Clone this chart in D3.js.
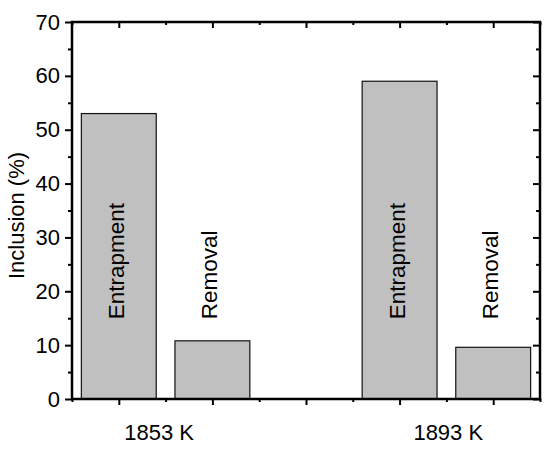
<!DOCTYPE html>
<html>
<head>
<meta charset="utf-8">
<script src="https://cdn.jsdelivr.net/npm/d3@7"></script>
<style>
  html, body { margin: 0; padding: 0; background: #fff; }
  svg { display: block; }
  text { font-family: "Liberation Sans", Arial, sans-serif; fill: #000; }
</style>
</head>
<body>
<div id="chart"></div>
<script>
// ---- data ----
const groupLabels = ["1853 K", "1893 K"];
const groupCenters = [1.43, 4.52];
const barLabels = ["Entrapment", "Removal", "Entrapment", "Removal"];
const barPositions = [1, 2, 4, 5];
const barValues = [53.0, 10.8, 59.0, 9.6];
const yMajorTicks = [0, 10, 20, 30, 40, 50, 60, 70];
const yMinorTicks = [5, 15, 25, 35, 45, 55, 65];
const xMajorTicks = [1, 2, 3, 4, 5];
const xMinorTicks = [0.5, 1.5, 2.5, 3.5, 4.5, 5.5];
const yTitle = "Inclusion (%)";

// ---- layout ----
const W = 550, H = 450;
const mLeft = 72, mRight = 540, mTop = 22, mBottom = 399;

const svg = d3.select("#chart").append("svg").attr("width", W).attr("height", H);

const x = d3.scaleLinear().domain([0.5, 5.5]).range([mLeft, mRight]);
const y = d3.scaleLinear().domain([0, 70]).range([mBottom, mTop]);
const barW = x(0.8) - x(0);

// bars
svg.append("g").selectAll("rect").data(barValues).join("rect")
  .attr("x", (d, i) => x(barPositions[i]) - barW / 2)
  .attr("y", d => y(d))
  .attr("width", barW)
  .attr("height", d => y(0) - y(d))
  .attr("fill", "#c0c0c0")
  .attr("stroke", "#111")
  .attr("stroke-width", 1.2);

// bar labels (rotated)
svg.append("g").selectAll("text").data(barLabels).join("text")
  .attr("transform", (d, i) => `translate(${x(barPositions[i]) + 5},${y(14.8)}) rotate(-90)`)
  .attr("text-anchor", "start")
  .attr("font-size", 22.5)
  .text(d => d);

function styleAxis(g) {
  g.select(".domain").remove();
  g.selectAll(".tick line").attr("stroke", "#000").attr("stroke-width", 2);
}

// left axis
svg.append("g").attr("transform", `translate(${mLeft},0)`)
  .call(d3.axisLeft(y).tickValues(yMajorTicks).tickSize(7).tickPadding(5))
  .call(styleAxis)
  .call(g => g.selectAll(".tick text").attr("font-size", 22).attr("font-family", "Liberation Sans, Arial, sans-serif").attr("fill", "#000"));
svg.append("g").attr("transform", `translate(${mLeft},0)`)
  .call(d3.axisLeft(y).tickValues(yMinorTicks).tickSize(4).tickFormat(""))
  .call(styleAxis);

// right axis (inward)
svg.append("g").attr("transform", `translate(${mRight},0)`)
  .call(d3.axisRight(y).tickValues(yMajorTicks).tickSize(-7).tickFormat(""))
  .call(styleAxis);
svg.append("g").attr("transform", `translate(${mRight},0)`)
  .call(d3.axisRight(y).tickValues(yMinorTicks).tickSize(-4).tickFormat(""))
  .call(styleAxis);

// top axis (inward)
svg.append("g").attr("transform", `translate(0,${mTop})`)
  .call(d3.axisTop(x).tickValues(xMajorTicks).tickSize(-6).tickFormat(""))
  .call(styleAxis);
svg.append("g").attr("transform", `translate(0,${mTop})`)
  .call(d3.axisTop(x).tickValues(xMinorTicks).tickSize(-3).tickFormat(""))
  .call(styleAxis);

// bottom axis (outward)
svg.append("g").attr("transform", `translate(0,${mBottom})`)
  .call(d3.axisBottom(x).tickValues(xMajorTicks).tickSize(6).tickFormat(""))
  .call(styleAxis);
svg.append("g").attr("transform", `translate(0,${mBottom})`)
  .call(d3.axisBottom(x).tickValues(xMinorTicks).tickSize(3).tickFormat(""))
  .call(styleAxis);

// frame
svg.append("rect")
  .attr("x", mLeft).attr("y", mTop)
  .attr("width", mRight - mLeft).attr("height", mBottom - mTop)
  .attr("fill", "none").attr("stroke", "#000").attr("stroke-width", 2.5);

// group labels
svg.append("g").selectAll("text").data(groupLabels).join("text")
  .attr("x", (d, i) => x(groupCenters[i]))
  .attr("y", 440)
  .attr("text-anchor", "middle")
  .attr("font-size", 22)
  .text(d => d);

// y title
svg.append("text")
  .attr("transform", `translate(24,${(mTop + mBottom) / 2 + 5}) rotate(-90)`)
  .attr("text-anchor", "middle")
  .attr("font-size", 22)
  .text(yTitle);
</script>
</body>
</html>
